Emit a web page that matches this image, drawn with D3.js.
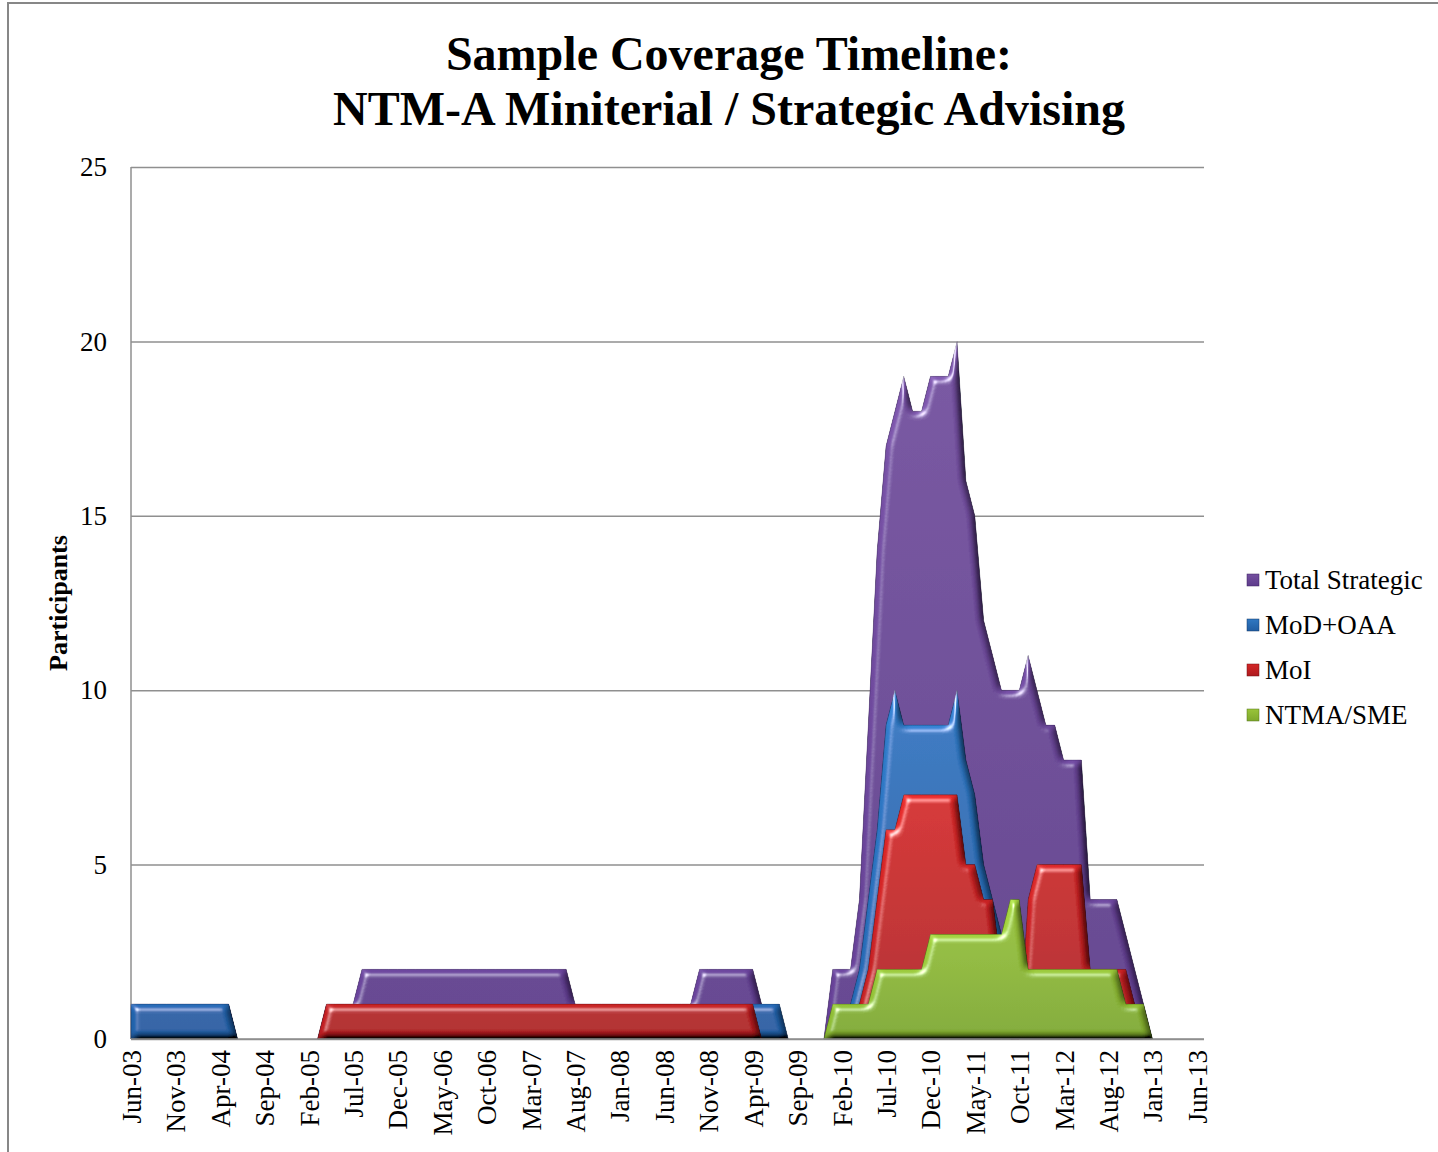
<!DOCTYPE html>
<html>
<head>
<meta charset="utf-8">
<script src="https://cdn.jsdelivr.net/npm/d3@7"></script>
<style>
    body { margin: 0; background: #fff; }
    #chart { width: 1438px; height: 1152px; }
    text { font-family: "Liberation Serif", "Times New Roman", serif; fill: #000; }
</style>
</head>
<body>
<div id="chart"></div>
<script>
// month index 0 = Jun-03, one value per month (rows are Jun..May)
var tickLabels = ["Jun-03", "Nov-03", "Apr-04", "Sep-04", "Feb-05", "Jul-05", "Dec-05", "May-06", "Oct-06",
    "Mar-07", "Aug-07", "Jan-08", "Jun-08", "Nov-08", "Apr-09", "Sep-09", "Feb-10", "Jul-10", "Dec-10",
    "May-11", "Oct-11", "Mar-12", "Aug-12", "Jan-13", "Jun-13"];
var yTicks = [0, 5, 10, 15, 20, 25];

var totalStrategic = [
    1, 1, 1, 1, 1, 1, 1, 1, 1, 1, 1, 1,
    0, 0, 0, 0, 0, 0, 0, 0, 0, 0, 1, 1,
    1, 1, 2, 2, 2, 2, 2, 2, 2, 2, 2, 2,
    2, 2, 2, 2, 2, 2, 2, 2, 2, 2, 2, 2,
    2, 2, 1, 1, 1, 1, 1, 1, 1, 1, 1, 1,
    1, 1, 1, 1, 2, 2, 2, 2, 2, 2, 2, 1,
    0, 0, 0, 0, 0, 0, 0, 2, 2, 2, 4, 9,
    14, 17, 18, 19, 18, 18, 19, 19, 19, 20, 16, 15,
    12, 11, 10, 10, 10, 11, 10, 9, 9, 8, 8, 8,
    4, 4, 4, 4, 3, 2, 1, 0];
var modOaa = [
    1, 1, 1, 1, 1, 1, 1, 1, 1, 1, 1, 1,
    0, 0, 0, 0, 0, 0, 0, 0, 0, 0, 0, 0,
    0, 0, 0, 0, 0, 0, 0, 0, 0, 0, 0, 0,
    0, 0, 0, 0, 0, 0, 0, 0, 0, 0, 0, 0,
    0, 0, 0, 0, 0, 0, 0, 0, 0, 0, 0, 0,
    0, 0, 0, 0, 0, 0, 0, 0, 0, 1, 1, 1,
    1, 1, 0, 0, 0, 0, 0, 0, 0, 1, 2, 4,
    6, 9, 10, 9, 9, 9, 9, 9, 9, 10, 8, 7,
    5, 4, 3, 1, 0, 0, 0, 0, 0, 0, 0, 0,
    0, 0, 0, 0, 0, 0, 0, 0];
var moi = [
    0, 0, 0, 0, 0, 0, 0, 0, 0, 0, 0, 0,
    0, 0, 0, 0, 0, 0, 0, 0, 0, 0, 1, 1,
    1, 1, 1, 1, 1, 1, 1, 1, 1, 1, 1, 1,
    1, 1, 1, 1, 1, 1, 1, 1, 1, 1, 1, 1,
    1, 1, 1, 1, 1, 1, 1, 1, 1, 1, 1, 1,
    1, 1, 1, 1, 1, 1, 1, 1, 1, 1, 1, 0,
    0, 0, 0, 0, 0, 0, 0, 0, 0, 0, 1, 2,
    4, 6, 6, 7, 7, 7, 7, 7, 7, 7, 5, 5,
    4, 4, 2, 0, 0, 4, 5, 5, 5, 5, 5, 5,
    2, 2, 2, 2, 2, 1, 0, 0];
var ntmaSme = [
    0, 0, 0, 0, 0, 0, 0, 0, 0, 0, 0, 0,
    0, 0, 0, 0, 0, 0, 0, 0, 0, 0, 0, 0,
    0, 0, 0, 0, 0, 0, 0, 0, 0, 0, 0, 0,
    0, 0, 0, 0, 0, 0, 0, 0, 0, 0, 0, 0,
    0, 0, 0, 0, 0, 0, 0, 0, 0, 0, 0, 0,
    0, 0, 0, 0, 0, 0, 0, 0, 0, 0, 0, 0,
    0, 0, 0, 0, 0, 0, 0, 1, 1, 1, 1, 1,
    2, 2, 2, 2, 2, 2, 3, 3, 3, 3, 3, 3,
    3, 3, 3, 4, 4, 2, 2, 2, 2, 2, 2, 2,
    2, 2, 2, 2, 1, 1, 1, 0];

var seriesNames = ["Total Strategic", "MoD+OAA", "MoI", "NTMA/SME"];

window.onload = function () {
    var W = 1438, H = 1152;
    var plot = {left: 131, right: 1204, top: 167, bottom: 1039};

    var series = [
        {name: seriesNames[0], values: totalStrategic, top: "#74509f", bot: "#5e3b8c", line: "#3c2360"},
        {name: seriesNames[1], values: modOaa, top: "#2f78c2", bot: "#205da2", line: "#143a68"},
        {name: seriesNames[2], values: moi, top: "#d42626", bot: "#ae1a1e", line: "#701014"},
        {name: seriesNames[3], values: ntmaSme, top: "#99c43a", bot: "#7ea82c", line: "#53731b"}
    ];

    var svg = d3.select("#chart").append("svg")
        .attr("width", W)
        .attr("height", H);

    var defs = svg.append("defs");

    // bevel look: blurred alpha used as a bump map
    var f = defs.append("filter").attr("id", "bevel")
        .attr("x", "-5%").attr("y", "-5%").attr("width", "110%").attr("height", "110%");
    f.append("feGaussianBlur").attr("in", "SourceAlpha").attr("stdDeviation", 3.5).attr("result", "b");
    f.append("feDiffuseLighting").attr("in", "b").attr("surfaceScale", 6).attr("diffuseConstant", 1)
        .attr("lighting-color", "#fff").attr("result", "l")
        .append("feDistantLight").attr("azimuth", 235).attr("elevation", 45);
    f.append("feComposite").attr("in", "SourceGraphic").attr("in2", "l").attr("operator", "arithmetic")
        .attr("k1", 1.414).attr("k2", 0).attr("k3", 0).attr("k4", 0).attr("result", "lit");
    f.append("feSpecularLighting").attr("in", "b").attr("surfaceScale", 6).attr("specularConstant", 0.9)
        .attr("specularExponent", 35).attr("lighting-color", "#fff").attr("result", "s")
        .append("feDistantLight").attr("azimuth", 235).attr("elevation", 40);
    f.append("feComposite").attr("in", "s").attr("in2", "SourceAlpha").attr("operator", "in").attr("result", "s2");
    f.append("feComposite").attr("in", "lit").attr("in2", "s2").attr("operator", "arithmetic")
        .attr("k1", 0).attr("k2", 1).attr("k3", 0.8).attr("k4", 0).attr("result", "sum");
    f.append("feComposite").attr("in", "sum").attr("in2", "SourceAlpha").attr("operator", "in");

    series.forEach(function (s, i) {
        var g = defs.append("linearGradient").attr("id", "grad" + i)
            .attr("x1", 0).attr("y1", 0).attr("x2", 0).attr("y2", 1);
        g.append("stop").attr("offset", "0%").attr("stop-color", s.top);
        g.append("stop").attr("offset", "100%").attr("stop-color", s.bot);
    });

    // outer chart border
    svg.append("rect")
        .attr("x", 8).attr("y", 3)
        .attr("width", W + 20).attr("height", H + 20)
        .attr("fill", "none")
        .attr("stroke", "#878787")
        .attr("stroke-width", 2);

    // title
    var title = svg.append("text")
        .attr("text-anchor", "middle")
        .style("font-size", "48px")
        .style("font-weight", "bold");
    title.append("tspan").attr("x", 729).attr("y", 70).text("Sample Coverage Timeline:");
    title.append("tspan").attr("x", 729).attr("y", 125).text("NTM-A Miniterial / Strategic Advising");

    // scales
    var x = d3.scaleLinear()
        .domain([0, 120.8])
        .range([plot.left, plot.right]);
    var y = d3.scaleLinear()
        .domain([0, 25])
        .range([plot.bottom, plot.top]);

    // gridlines
    svg.append("g")
        .attr("transform", "translate(" + plot.left + ",0)")
        .call(d3.axisLeft(y).tickValues(yTicks).tickSize(-(plot.right - plot.left)).tickFormat(""))
        .call(function (g) { g.select(".domain").remove(); })
        .selectAll("line")
        .attr("stroke", "#8f8f8f")
        .attr("stroke-width", 1.5);

    // left axis line
    svg.append("line")
        .attr("x1", plot.left).attr("x2", plot.left)
        .attr("y1", plot.top).attr("y2", plot.bottom)
        .attr("stroke", "#8f8f8f")
        .attr("stroke-width", 1.5);

    // y labels
    var yAxis = svg.append("g")
        .attr("transform", "translate(" + plot.left + ",0)")
        .call(d3.axisLeft(y).tickValues(yTicks).tickSize(0).tickPadding(24));
    yAxis.select(".domain").remove();
    yAxis.selectAll("text")
        .style("font-family", "Liberation Serif, Times New Roman, serif")
        .style("font-size", "27px");

    // x labels, rotated
    var tickIdx = tickLabels.map(function (d, i) { return i * 5; });
    var xAxis = svg.append("g")
        .attr("transform", "translate(0," + plot.bottom + ")")
        .call(d3.axisBottom(x).tickValues(tickIdx).tickSize(0)
            .tickFormat(function (d, i) { return tickLabels[i]; }));
    xAxis.select(".domain").remove();
    xAxis.selectAll("text")
        .attr("y", 0)
        .attr("x", -11)
        .attr("dy", "0.35em")
        .attr("transform", "rotate(-90)")
        .style("text-anchor", "end")
        .style("font-family", "Liberation Serif, Times New Roman, serif")
        .style("font-size", "27px");

    // y title
    svg.append("text")
        .attr("transform", "translate(58," + ((plot.top + plot.bottom) / 2) + ") rotate(-90)")
        .attr("text-anchor", "middle")
        .attr("dy", "0.35em")
        .style("font-size", "26px")
        .style("font-weight", "bold")
        .text("Participants");

    // areas, back to front
    series.forEach(function (s, i) {
        var v = s.values;
        var area = d3.area()
            .defined(function (d, j) { return v[j] > 0 || v[j - 1] > 0 || v[j + 1] > 0; })
            .x(function (d, j) { return x(j); })
            .y0(y(0))
            .y1(function (d) { return y(d); });
        svg.append("path")
            .datum(v)
            .attr("d", area)
            .attr("fill", "url(#grad" + i + ")")
            .attr("stroke", s.line)
            .attr("stroke-width", 1)
            .attr("stroke-opacity", 0.6)
            .attr("filter", "url(#bevel)");
    });

    // baseline on top
    svg.append("line")
        .attr("x1", plot.left).attr("x2", plot.right)
        .attr("y1", plot.bottom).attr("y2", plot.bottom)
        .attr("stroke", "#8f8f8f")
        .attr("stroke-width", 1.5);

    // legend
    var legend = svg.append("g");
    series.forEach(function (s, i) {
        var cy = 580 + i * 45;
        legend.append("rect")
            .attr("x", 1247).attr("y", cy - 6)
            .attr("width", 12).attr("height", 12)
            .attr("fill", "url(#grad" + i + ")")
            .attr("stroke", s.line)
            .attr("stroke-width", 0.5);
        legend.append("text")
            .attr("x", 1265).attr("y", cy)
            .attr("dy", "0.35em")
            .style("font-size", "27px")
            .text(s.name);
    });
};
</script>
</body>
</html>
